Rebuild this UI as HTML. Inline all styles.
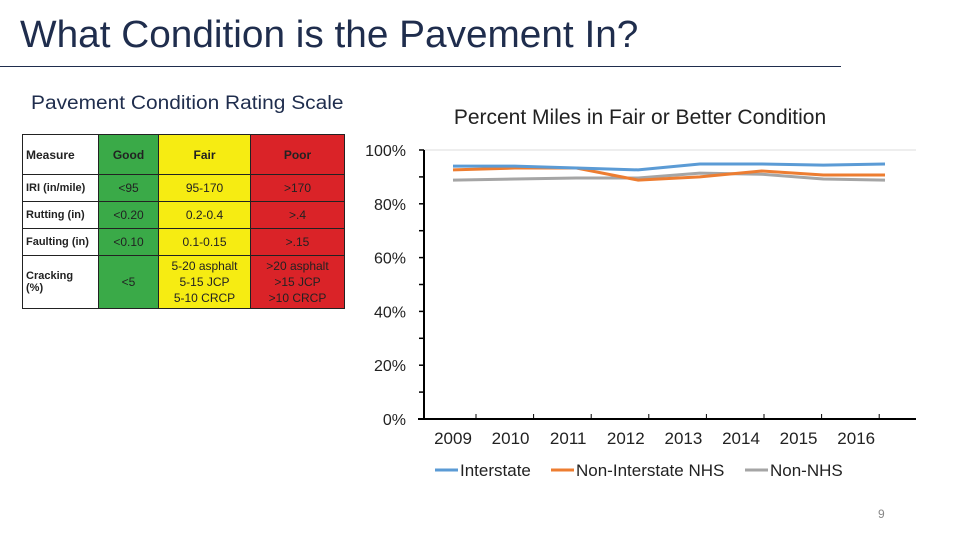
<!DOCTYPE html>
<html><head><meta charset="utf-8"><style>
body{margin:0;background:#fff}
#s{position:relative;width:960px;height:540px;overflow:hidden;background:#fff;font-family:"Liberation Sans",sans-serif}
.t{position:absolute;white-space:nowrap}
table{position:absolute;left:22px;top:134px;border-collapse:collapse;font-size:12px}
td{border:1px solid #222;text-align:center;padding:0;color:#222}
.g{background:#3aaa48}.f{background:#f6ec12}.p{background:#da2328}
.m{text-align:left;padding-left:3px;font-weight:bold;font-size:11px;background:#fff}
</style></head><body>
<div id="s">
<div class="t" style="left:20px;top:14px;font-size:38px;color:#1f2d4d;transform:scaleX(1.02);transform-origin:left">What Condition is the Pavement In?</div>
<div style="position:absolute;left:0;top:66px;width:841px;height:1px;background:#1f2d4d"></div>
<div class="t" style="left:31px;top:93px;font-size:19px;color:#1f2d4d;transform:scaleX(1.1);transform-origin:left">Pavement Condition Rating Scale</div>
<table>
<tr style="height:40px"><td class="m" style="width:72px;font-weight:bold;font-size:12px">Measure</td><td class="g" style="width:59px;font-weight:bold">Good</td><td class="f" style="width:91px;font-weight:bold">Fair</td><td class="p" style="width:93px;font-weight:bold">Poor</td></tr>
<tr style="height:27px"><td class="m">IRI (in/mile)</td><td class="g">&lt;95</td><td class="f">95-170</td><td class="p">&gt;170</td></tr>
<tr style="height:27px"><td class="m">Rutting (in)</td><td class="g">&lt;0.20</td><td class="f">0.2-0.4</td><td class="p">&gt;.4</td></tr>
<tr style="height:27px"><td class="m">Faulting (in)</td><td class="g">&lt;0.10</td><td class="f">0.1-0.15</td><td class="p">&gt;.15</td></tr>
<tr style="height:53px"><td class="m">Cracking<br>(%)</td><td class="g">&lt;5</td><td class="f" style="line-height:16px">5-20 asphalt<br>5-15 JCP<br>5-10 CRCP</td><td class="p" style="line-height:16px">&gt;20 asphalt<br>&gt;15 JCP<br>&gt;10 CRCP</td></tr>
</table>
<svg id="c" width="960" height="540" style="position:absolute;left:0;top:0"></svg>
<div class="t" style="left:878px;top:507px;font-size:12px;color:#888">9</div>
</div>
<script>
const years=["2009","2010","2011","2012","2013","2014","2015","2016"];
const interstate=[94,94,93.3,92.6,94.8,94.8,94.4,94.8];
const nonInterstateNHS=[92.6,93.3,93.3,88.8,90,92.2,90.7,90.7];
const nonNHS=[88.8,89.2,89.6,89.6,91.4,91,89.2,88.8];
const yTicks=["0%","20%","40%","60%","80%","100%"];
const svg=document.getElementById('c');const NS='http://www.w3.org/2000/svg';
function mk(t,a,txt){const e=document.createElementNS(NS,t);for(const k in a)e.setAttribute(k,a[k]);if(txt!==undefined)e.textContent=txt;svg.appendChild(e);return e;}
const y=v=>419-v*2.69;
const xl=i=>453+i*(885-453)/(years.length-1);
const xc=i=>447+i*57.6;
let e=mk('text',{x:640,y:124,'font-size':21,'text-anchor':'middle',fill:'#222','font-family':'Liberation Sans'},'Percent Miles in Fair or Better Condition');


e=mk('line',{x1:424,x2:916,y1:y(100),y2:y(100),stroke:'#ddd','stroke-width':1});


e=mk('line',{x1:424,x2:424,y1:y(100),y2:419,stroke:'#000','stroke-width':2});


for(let v=0;v<=100;v+=10){e=mk('line',{x1:419,x2:424,y1:y(v),y2:y(v),stroke:'#000','stroke-width':1.5});

}
yTicks.forEach((l,i)=>{e=mk('text',{x:406,y:y(i*20)+6,'font-size':16,'text-anchor':'end',fill:'#222','font-family':'Liberation Sans'},l);

});
e=mk('line',{x1:418,x2:916,y1:419,y2:419,stroke:'#000','stroke-width':2});


years.forEach((l,i)=>{e=mk('line',{x1:xc(i)+29,x2:xc(i)+29,y1:414,y2:419,stroke:'#000','stroke-width':1});


e=mk('text',{x:xc(i)+6,y:444,'font-size':17,'text-anchor':'middle',fill:'#222','font-family':'Liberation Sans'},l);

});
const series=[[interstate,'#5b9bd5','interstate'],[nonInterstateNHS,'#ed7d31','non-interstate-nhs'],[nonNHS,'#a5a5a5','non-nhs']];
series.slice().reverse().forEach(s=>{e=mk('polyline',{points:s[0].map((v,i)=>xl(i)+','+y(v)).join(' '),fill:'none',stroke:s[1],'stroke-width':3});

});
const leg=[['Interstate',435],['Non-Interstate NHS',551],['Non-NHS',745]];
leg.forEach((l,i)=>{e=mk('line',{x1:l[1],x2:l[1]+23,y1:470,y2:470,stroke:series[i][1],'stroke-width':3});


e=mk('text',{x:l[1]+25,y:476,'font-size':17,fill:'#222','font-family':'Liberation Sans'},l[0]);

});
</script>
</body></html>
